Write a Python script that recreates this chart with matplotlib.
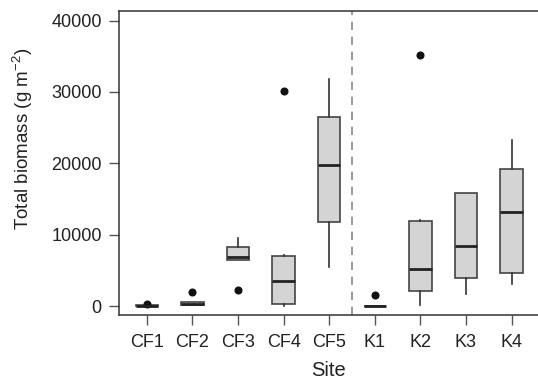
import matplotlib
matplotlib.use('Agg')
import matplotlib.pyplot as plt

plt.rcParams['font.family'] = ['Liberation Sans', 'DejaVu Sans']
plt.rcParams['mathtext.fontset'] = 'custom'
plt.rcParams['mathtext.rm'] = 'Liberation Sans'
plt.rcParams['mathtext.it'] = 'Liberation Sans'

sites = ['CF1', 'CF2', 'CF3', 'CF4', 'CF5', 'K1', 'K2', 'K3', 'K4']
q1 = [0, 140, 6430, 280, 11800, 0, 2100, 3960, 4660]
med = [0, 350, 6900, 3540, 19800, 0, 5130, 8350, 13150]
q3 = [80, 520, 8250, 7000, 26480, 60, 11980, 15850, 19200]
whislo = [0, 140, 6430, 0, 5500, 0, 140, 1640, 3080]
whishi = [80, 520, 9550, 7100, 31750, 60, 12050, 15850, 23310]
fliers = [[280], [2000], [2240], [30200], [], [1540], [35250], [], []]

stats = []
for i, s in enumerate(sites):
    stats.append(dict(label=s, q1=q1[i], med=med[i], q3=q3[i],
                      whislo=whislo[i], whishi=whishi[i], fliers=fliers[i]))

fig = plt.figure(figsize=(5.38, 3.82), dpi=100)
ax = fig.add_axes([0.2212, 0.1754, 0.7788, 0.7958])

edge = '#444444'
ax.bxp(stats, positions=range(1, 10), widths=0.49, patch_artist=True, showcaps=False,
       boxprops=dict(facecolor='#d4d4d4', edgecolor=edge, linewidth=1.2),
       medianprops=dict(color='#222222', linewidth=2),
       whiskerprops=dict(color='#333333', linewidth=1.2),
       flierprops=dict(marker='o', markersize=4.8, markerfacecolor='#111111',
                       markeredgecolor='#111111'))

ax.axvline(5.5, color='#888888', linestyle=(0, (5, 4)), linewidth=1.2)

ax.set_xlim(0.39, 9.58)
ax.set_ylim(-1260, 41350)
ax.set_yticks([0, 10000, 20000, 30000, 40000])
ax.set_xticks(range(1, 10))
ax.set_xticklabels(sites)

for sp in ['left', 'bottom', 'top']:
    ax.spines[sp].set_color('#333333')
    ax.spines[sp].set_linewidth(1.1)
ax.spines['right'].set_visible(False)

ax.tick_params(axis='both', length=7.5, width=1, color='#555555', labelsize=13,
               labelcolor='#222222')
ax.tick_params(axis='y', pad=5)
ax.tick_params(axis='x', pad=6)

ax.set_xlabel('Site', fontsize=14.5, color='#222222')
ax.set_ylabel('Total biomass (g m$^{\\mathregular{-2}}$)', fontsize=13.5, color='#222222')
ax.xaxis.set_label_coords(0.5, -0.152)
ax.yaxis.set_label_coords(-0.20, 0.58)

fig.savefig('out.png', dpi=100)
